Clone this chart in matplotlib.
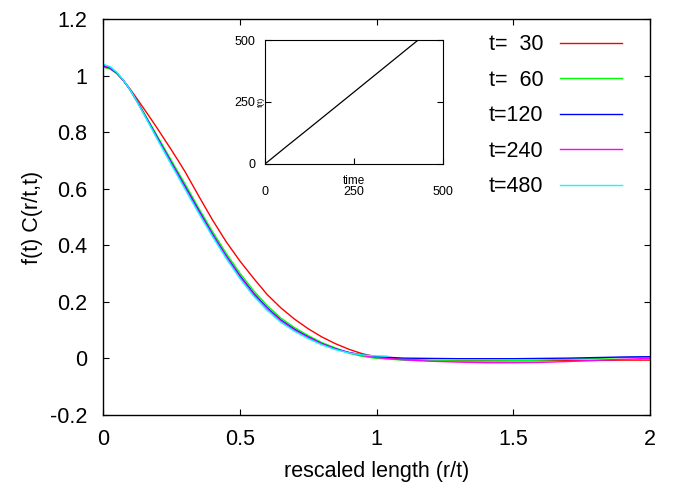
import matplotlib
matplotlib.use("Agg")
import matplotlib.pyplot as plt

plt.rcParams['font.family'] = ['Liberation Sans', 'DejaVu Sans']

# rescaled length r/t
x = [0.0, 0.025, 0.05, 0.075, 0.10, 0.125, 0.15, 0.175, 0.20, 0.225, 0.25, 0.275, 0.30,
     0.35, 0.40, 0.45, 0.50, 0.55, 0.60, 0.65, 0.70, 0.75, 0.80, 0.85, 0.90, 0.95, 1.00,
     1.1, 1.2, 1.3, 1.4, 1.5, 1.6, 1.7, 1.8, 1.9, 2.0]

c30 = [1.031, 1.025, 1.008, 0.982, 0.951, 0.917, 0.882, 0.847, 0.811, 0.774, 0.737, 0.699, 0.660,
       0.574, 0.490, 0.413, 0.345, 0.284, 0.226, 0.179, 0.139, 0.105, 0.076, 0.052, 0.032, 0.016, 0.006,
       -0.004, -0.007, -0.008, -0.008, -0.008, -0.008, -0.007, -0.007, -0.006, -0.006]
c60 = [1.030, 1.024, 1.008, 0.982, 0.949, 0.909, 0.868, 0.826, 0.784, 0.742, 0.700, 0.658, 0.617,
       0.531, 0.449, 0.372, 0.302, 0.240, 0.187, 0.143, 0.109, 0.081, 0.056, 0.037, 0.018, 0.007, 0.000,
       -0.006, -0.008, -0.009, -0.009, -0.008, -0.006, -0.003, 0.000, 0.003, 0.006]
c120 = [1.034, 1.027, 1.009, 0.982, 0.948, 0.908, 0.865, 0.822, 0.778, 0.735, 0.692, 0.650, 0.608,
        0.523, 0.440, 0.363, 0.293, 0.231, 0.179, 0.136, 0.103, 0.076, 0.052, 0.034, 0.021, 0.012, 0.006,
        0.001, 0.000, -0.001, -0.001, -0.001, 0.000, 0.001, 0.003, 0.005, 0.006]
c240 = [1.037, 1.029, 1.010, 0.982, 0.948, 0.907, 0.864, 0.820, 0.776, 0.733, 0.689, 0.647, 0.604,
        0.519, 0.437, 0.360, 0.289, 0.227, 0.176, 0.133, 0.100, 0.074, 0.051, 0.033, 0.020, 0.010, 0.003,
        -0.005, -0.010, -0.013, -0.015, -0.015, -0.014, -0.011, -0.007, -0.003, 0.000]

x480 = [0.0, 0.025, 0.05, 0.075, 0.10, 0.125, 0.15, 0.175, 0.20, 0.225, 0.25, 0.275, 0.30,
        0.35, 0.40, 0.45, 0.50, 0.55, 0.60, 0.65, 0.70, 0.75, 0.80, 0.85, 0.90, 0.95, 1.00, 1.04]
c480 = [1.040, 1.032, 1.012, 0.983, 0.948, 0.906, 0.862, 0.817, 0.772, 0.728, 0.684, 0.641, 0.598,
        0.513, 0.431, 0.354, 0.283, 0.221, 0.170, 0.128, 0.096, 0.070, 0.048, 0.031, 0.019, 0.012, 0.009, 0.008]

# inset: f(t) vs time
time = [0, 30, 60, 120, 240, 480]
ft = [0, 35, 70, 139, 278, 557]

fig = plt.figure(figsize=(6.8, 4.88), dpi=100)
ax = fig.add_axes([0.1515, 0.1496, 0.8044, 0.8115])

ax.plot(x, c30, color='#ff0000', lw=1.0, label='t=  30')
ax.plot(x, c60, color='#00ff00', lw=1.0, label='t=  60')
ax.plot(x, c120, color='#0000ff', lw=1.0, label='t=120')
ax.plot(x, c240, color='#ff00ff', lw=1.0, label='t=240')
ax.plot(x480, c480, color='#00ffff', lw=1.0, label='t=480')

ax.set_xlim(0, 2)
ax.set_ylim(-0.2, 1.2)
ax.set_xticks([0, 0.5, 1, 1.5, 2])
ax.set_xticklabels(['0', '0.5', '1', '1.5', '2'])
ax.set_yticks([-0.2, 0, 0.2, 0.4, 0.6, 0.8, 1, 1.2])
ax.set_yticklabels(['-0.2', '0', '0.2', '0.4', '0.6', '0.8', '1', '1.2'])
ax.tick_params(direction='in', length=4.5, width=0.8, labelsize=15.5,
               top=True, right=True, pad=10)
ax.tick_params(axis='y', pad=11.5)
for s in ax.spines.values():
    s.set_linewidth(1.0)
ax.set_xlabel('rescaled length (r/t)', fontsize=15.5, labelpad=8)
ax.set_ylabel('f(t) C(r/t,t)', fontsize=15.5, labelpad=5)

ax.legend(loc='upper right', bbox_to_anchor=(0.949, 0.961), frameon=False,
          markerfirst=False, fontsize=15.5, handlelength=2.9, handletextpad=0.75,
          labelspacing=0.67, borderpad=0, borderaxespad=0)

ins = fig.add_axes([0.3897, 0.664, 0.2613, 0.254])
ins.plot(time, ft, color='black', lw=0.9)
ins.set_xlim(0, 500)
ins.set_ylim(0, 500)
ins.set_xticks([0, 250, 500])
ins.set_yticks([0, 250, 500])
ins.tick_params(direction='in', length=4.5, width=0.8, labelsize=9)
ins.tick_params(axis='x', pad=16)
ins.tick_params(axis='y', left=True, right=True, pad=7)
ins.set_xlabel('time', fontsize=8.5)
ins.xaxis.set_label_coords(0.5, -0.09)
ins.set_ylabel('f(t)', fontsize=6)
ins.yaxis.set_label_coords(0.0, 0.5)

fig.savefig('out.png', dpi=100)
